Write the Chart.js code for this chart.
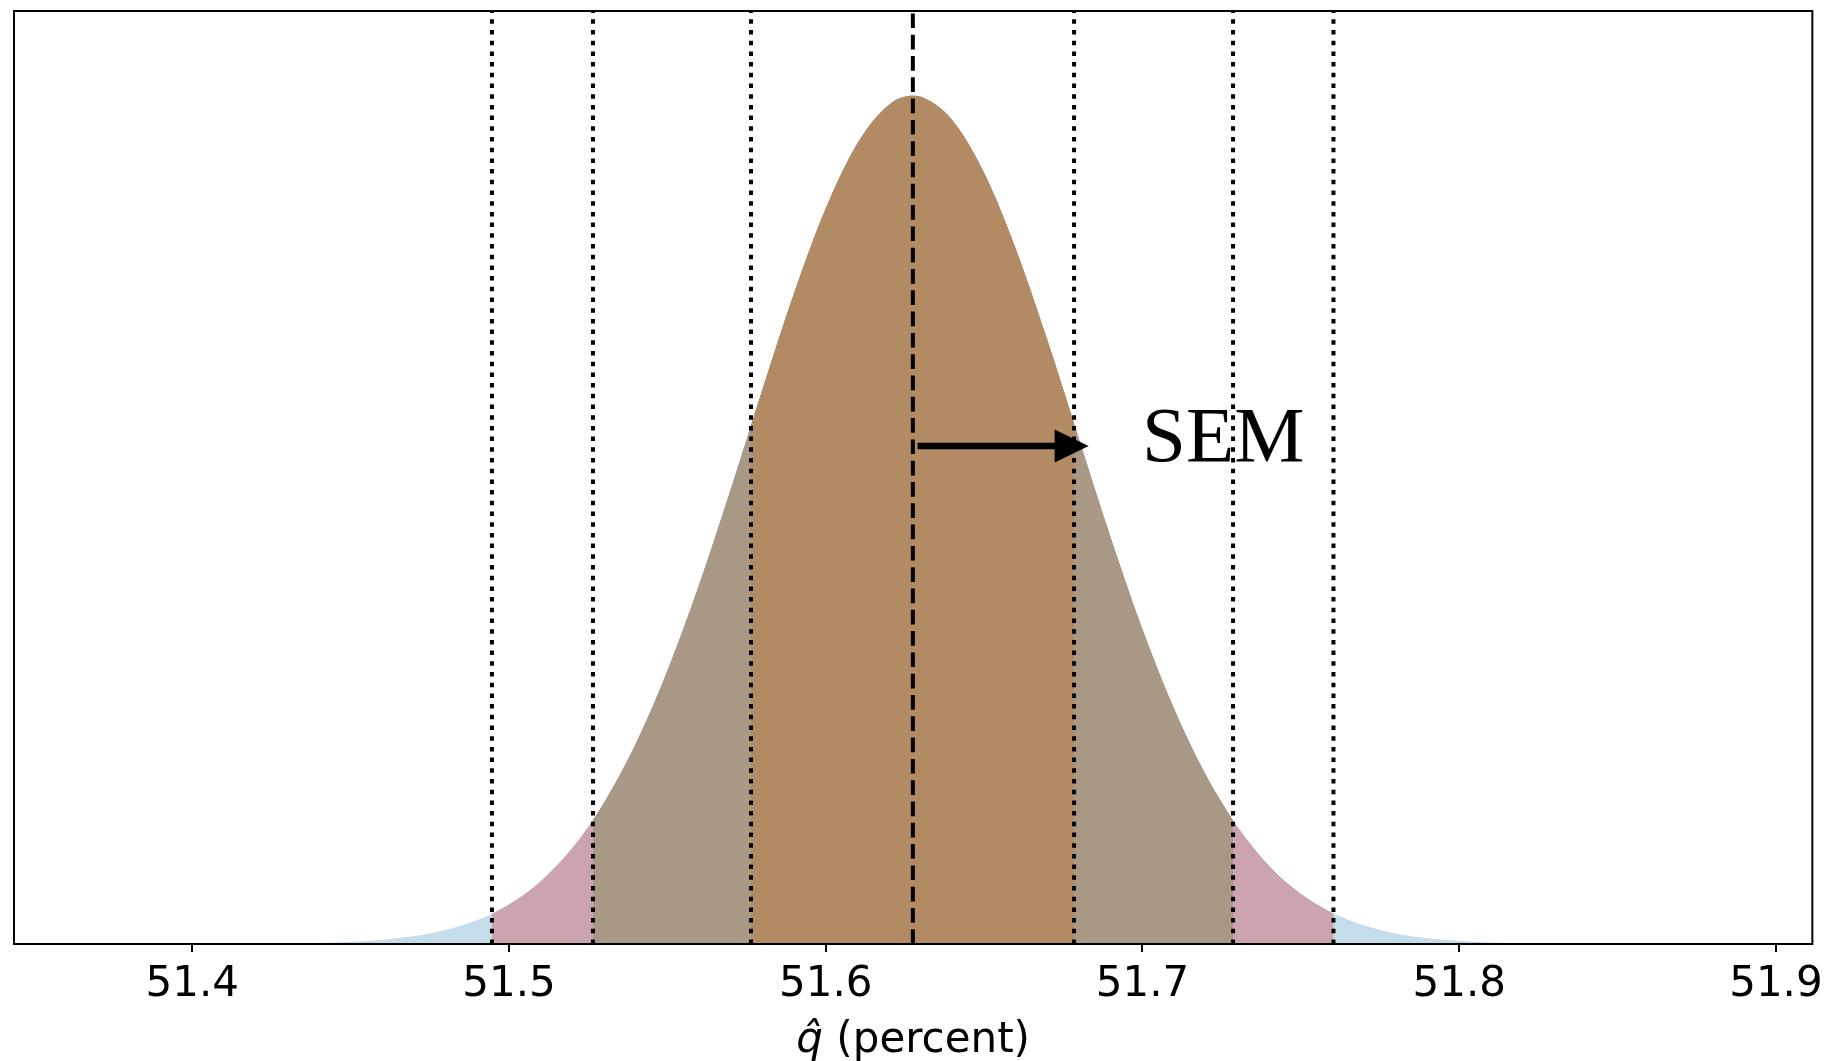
<!DOCTYPE html>
<html>
<head>
<meta charset="utf-8">
<script src="https://cdn.jsdelivr.net/npm/chart.js@4"></script>
<style>
  html, body { margin: 0; padding: 0; background: #fff; }
  canvas { display: block; }
</style>
</head>
<body>
<canvas id="semChart" width="1831" height="1061"></canvas>
<script>
// sampling distribution of q-hat, heights (peak = 1)
const curveX = [51.42, 51.43, 51.44, 51.45, 51.46, 51.47, 51.48, 51.49, 51.4946, 51.50,
    51.51, 51.52, 51.5265, 51.53, 51.54, 51.55, 51.56, 51.57, 51.5764, 51.58,
    51.59, 51.60, 51.61, 51.62, 51.6275, 51.63, 51.64, 51.65, 51.66, 51.67,
    51.6784, 51.68, 51.69, 51.70, 51.71, 51.72, 51.7286, 51.73, 51.74, 51.75,
    51.76, 51.7603, 51.77, 51.78, 51.79, 51.80, 51.81, 51.82, 51.83, 51.84];
const curveY = [0.0003, 0.0006, 0.0013, 0.0026, 0.0050, 0.0093, 0.0166, 0.0283, 0.0358, 0.0466,
    0.0741, 0.1132, 0.1462, 0.1666, 0.2362, 0.3223, 0.4236, 0.5362, 0.6112, 0.6535,
    0.7672, 0.8671, 0.9439, 0.9895, 1.0, 0.9988, 0.971, 0.909, 0.8195, 0.7114,
    0.6136, 0.5948, 0.4788, 0.3712, 0.2772, 0.1993, 0.1456, 0.138, 0.092, 0.0591,
    0.0365, 0.0360, 0.0218, 0.0125, 0.0069, 0.0037, 0.0019, 0.0009, 0.0004, 0.0002];

// shaded bands (outer to inner)
const bandLo = [51.4946, 51.5265, 51.5764];
const bandHi = [51.7603, 51.7286, 51.6784];
const bandColors = ['#cba4b0', '#a99886', '#b28a64'];
const tailColor = '#c5dcea';

const meanValue = 51.6275;
const tickValues = [51.4, 51.5, 51.6, 51.7, 51.8, 51.9];
const xMin = 51.3437, xMax = 51.9115;
const yMax = 1.1;

// SEM arrow + label
const arrowFrom = 51.629, arrowTo = 51.683, arrowY = 0.587;
const semLabel = 'SEM', semX = 51.7255, semY = 0.594;
const xTitleVar = 'q̂', xTitleRest = ' (percent)';

const curvePts = curveX.map((x, i) => ({ x: x, y: curveY[i] }));

function bandPts(lo, hi) {
    return curvePts.filter(p => p.x >= lo - 1e-9 && p.x <= hi + 1e-9);
}

function vline(x, dash, width) {
    return {
        data: [{ x: x, y: 0 }, { x: x, y: yMax }],
        borderColor: '#000',
        borderWidth: width,
        borderDash: dash,
        borderCapStyle: 'butt',
        pointRadius: 0,
        fill: false,
        order: 0
    };
}

const datasets = [];
datasets.push({
    data: curvePts,
    backgroundColor: tailColor,
    borderWidth: 0,
    pointRadius: 0,
    fill: 'origin',
    cubicInterpolationMode: 'monotone',
    order: 10
});
bandLo.forEach((lo, i) => {
    datasets.push({
        data: bandPts(lo, bandHi[i]),
        backgroundColor: bandColors[i],
        borderWidth: 0,
        pointRadius: 0,
        fill: 'origin',
        cubicInterpolationMode: 'monotone',
        order: 9 - i
    });
});
bandLo.concat(bandHi).forEach(x => datasets.push(vline(x, [4.5, 6.2], 4)));
datasets.push(vline(meanValue, [14.7, 6.6], 4));

const extras = {
    id: 'extras',
    afterDraw(chart) {
        const ctx = chart.ctx;
        const xs = chart.scales.x, ys = chart.scales.y;
        const a = chart.chartArea;

        // arrow
        const x0 = xs.getPixelForValue(arrowFrom);
        const x1 = xs.getPixelForValue(arrowTo);
        const y = ys.getPixelForValue(arrowY);
        const head = 34;
        ctx.save();
        ctx.fillStyle = '#000';
        ctx.strokeStyle = '#000';
        ctx.lineWidth = 6.5;
        ctx.beginPath();
        ctx.moveTo(x0, y);
        ctx.lineTo(x1 - head + 2, y);
        ctx.stroke();
        ctx.beginPath();
        ctx.moveTo(x1, y);
        ctx.lineTo(x1 - head, y - 16.5);
        ctx.lineTo(x1 - head, y + 16.5);
        ctx.closePath();
        ctx.fill();

        // label
        ctx.font = '79px "Liberation Serif", "Times New Roman", serif';
        ctx.textAlign = 'center';
        ctx.textBaseline = 'middle';
        ctx.fillText(semLabel, xs.getPixelForValue(semX), ys.getPixelForValue(semY));

        // frame
        ctx.lineWidth = 2;
        ctx.strokeRect(a.left, a.top, a.right - a.left, a.bottom - a.top);

        // x axis title, italic variable + plain text
        const fItal = 'italic 42px "DejaVu Sans"';
        const fNorm = '42px "DejaVu Sans"';
        ctx.textAlign = 'left';
        ctx.textBaseline = 'middle';
        ctx.font = fItal;
        const w1 = ctx.measureText(xTitleVar).width;
        ctx.font = fNorm;
        const w2 = ctx.measureText(xTitleRest).width;
        const cx = (a.left + a.right) / 2;
        const ty = 1041;
        let tx = cx - (w1 + w2) / 2;
        ctx.font = fItal;
        ctx.fillText(xTitleVar, tx, ty);
        ctx.font = fNorm;
        ctx.fillText(xTitleRest, tx + w1, ty);
        ctx.restore();
    }
};

new Chart(document.getElementById('semChart'), {
    type: 'line',
    data: { datasets: datasets },
    plugins: [extras],
    options: {
        responsive: false,
        animation: false,
        layout: { padding: { left: 14, right: 16, top: 11, bottom: 0 } },
        plugins: {
            legend: { display: false },
            tooltip: { enabled: false }
        },
        scales: {
            x: {
                type: 'linear',
                min: xMin,
                max: xMax,
                afterBuildTicks: axis => { axis.ticks = tickValues.map(v => ({ value: v })); },
                afterFit: axis => { axis.height = 117; },
                ticks: {
                    color: '#000',
                    padding: 8,
                    maxRotation: 0,
                    font: { family: '"DejaVu Sans"', size: 42 },
                    callback: v => v.toFixed(1)
                },
                grid: {
                    display: true,
                    drawOnChartArea: false,
                    drawTicks: true,
                    tickLength: 8,
                    color: '#000',
                    lineWidth: 2
                },
                border: { display: true, color: '#000', width: 2 }
            },
            y: {
                display: false,
                min: 0,
                max: yMax
            }
        }
    }
});
</script>
</body>
</html>
